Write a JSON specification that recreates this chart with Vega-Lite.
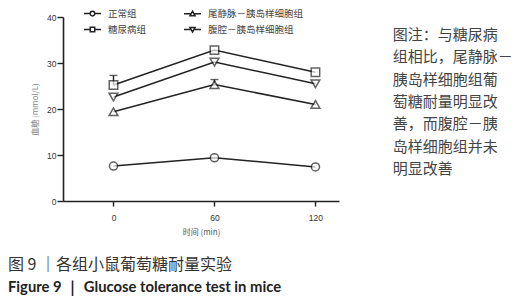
{
  "$schema": "https://vega.github.io/schema/vega-lite/v6.json",
  "autosize": {"type": "none"},
  "width": 276,
  "height": 184,
  "padding": {"left": 63, "top": 17, "right": 183, "bottom": 100},
  "background": "white",
  "config": {
    "view": {"stroke": null},
    "axis": {"grid": false, "domainColor": "#222", "domainWidth": 1.6, "tickColor": "#222", "tickWidth": 1.4, "labelFont": "Liberation Sans", "labelFontSize": 8.5, "labelColor": "#333", "titleFont": "Noto Sans CJK SC", "titleFontSize": 8, "titleFontWeight": "normal"}
  },
  "title": {
    "text": "图 9 ｜各组小鼠葡萄糖耐量实验",
    "subtitle": "Figure 9 ｜ Glucose tolerance test in mice",
    "orient": "bottom",
    "anchor": "start",
    "frame": "group",
    "dx": -55,
    "offset": 20,
    "font": "Noto Sans CJK SC",
    "fontSize": 16,
    "fontWeight": "normal",
    "color": "#333",
    "subtitleFont": "Lato",
    "subtitleFontSize": 14.8,
    "subtitleFontWeight": "bold",
    "subtitleColor": "#222",
    "subtitlePadding": 7
  },
  "datasets": {
    "glucose": [
      {"group": "正常组", "time": 0, "value": 7.6},
      {"group": "正常组", "time": 60, "value": 9.4},
      {"group": "正常组", "time": 120, "value": 7.4},
      {"group": "糖尿病组", "time": 0, "value": 25.2, "upper": 27.3},
      {"group": "糖尿病组", "time": 60, "value": 32.8},
      {"group": "糖尿病组", "time": 120, "value": 28.0},
      {"group": "尾静脉－胰岛样细胞组", "time": 0, "value": 19.4},
      {"group": "尾静脉－胰岛样细胞组", "time": 60, "value": 25.3, "upper": 26.4},
      {"group": "尾静脉－胰岛样细胞组", "time": 120, "value": 21.0},
      {"group": "腹腔－胰岛样细胞组", "time": 0, "value": 22.6},
      {"group": "腹腔－胰岛样细胞组", "time": 60, "value": 30.2},
      {"group": "腹腔－胰岛样细胞组", "time": 120, "value": 25.5}
    ],
    "note": [
      {"note": ["图注：与糖尿病", "组相比，尾静脉－", "胰岛样细胞组葡", "萄糖耐量明显改", "善，而腹腔－胰", "岛样细胞组并未", "明显改善"]}
    ]
  },
  "layer": [
    {
      "data": {"name": "glucose"},
      "mark": {"type": "line", "color": "#222", "strokeWidth": 1.5},
      "encoding": {
        "x": {"field": "time", "type": "quantitative", "scale": {"domain": [-30, 134], "nice": false, "zero": false},
          "axis": {"values": [0, 60, 120], "title": "时间 (min)", "titleColor": "#555", "tickSize": 5, "labelPadding": 7, "titlePadding": 7}},
        "y": {"field": "value", "type": "quantitative", "scale": {"domain": [0, 40], "nice": false},
          "axis": {"values": [0, 10, 20, 30, 40], "title": "血糖 (mmol/L)", "titleColor": "#888", "tickSize": 6, "labelPadding": 1, "titlePadding": 7}},
        "detail": {"field": "group"}
      }
    },
    {
      "data": {"name": "glucose"},
      "transform": [{"filter": "datum.upper != null"}],
      "mark": {"type": "rule", "color": "#222", "strokeWidth": 1.4},
      "encoding": {
        "x": {"field": "time", "type": "quantitative"},
        "y": {"field": "value", "type": "quantitative"},
        "y2": {"field": "upper"}
      }
    },
    {
      "data": {"name": "glucose"},
      "transform": [{"filter": "datum.upper != null"}],
      "mark": {"type": "tick", "color": "#222", "thickness": 1.4, "size": 8, "orient": "horizontal"},
      "encoding": {
        "x": {"field": "time", "type": "quantitative"},
        "y": {"field": "upper", "type": "quantitative"}
      }
    },
    {
      "data": {"name": "glucose"},
      "transform": [{"filter": "datum.group == '正常组'"}],
      "mark": {"type": "point", "shape": "circle", "filled": true, "fill": "white", "stroke": "#222", "strokeWidth": 1.5, "size": 66},
      "encoding": {"x": {"field": "time", "type": "quantitative"}, "y": {"field": "value", "type": "quantitative"}}
    },
    {
      "data": {"name": "glucose"},
      "transform": [{"filter": "datum.group == '糖尿病组'"}],
      "mark": {"type": "point", "shape": "square", "filled": true, "fill": "white", "stroke": "#222", "strokeWidth": 1.5, "size": 72},
      "encoding": {"x": {"field": "time", "type": "quantitative"}, "y": {"field": "value", "type": "quantitative"}}
    },
    {
      "data": {"name": "glucose"},
      "transform": [{"filter": "datum.group == '尾静脉－胰岛样细胞组'"}],
      "mark": {"type": "point", "shape": "triangle-up", "filled": true, "fill": "white", "stroke": "#222", "strokeWidth": 1.5, "size": 78},
      "encoding": {"x": {"field": "time", "type": "quantitative"}, "y": {"field": "value", "type": "quantitative"}}
    },
    {
      "data": {"name": "glucose"},
      "transform": [{"filter": "datum.group == '腹腔－胰岛样细胞组'"}],
      "mark": {"type": "point", "shape": "triangle-down", "filled": true, "fill": "white", "stroke": "#222", "strokeWidth": 1.5, "size": 78},
      "encoding": {"x": {"field": "time", "type": "quantitative"}, "y": {"field": "value", "type": "quantitative"}}
    },
    {
      "data": {"name": "glucose"},
      "mark": {"type": "point", "filled": true, "fill": "white", "stroke": "#222", "strokeWidth": 1.5, "size": 289},
      "encoding": {
        "x": {"field": "time", "type": "quantitative"},
        "y": {"field": "value", "type": "quantitative"},
        "opacity": {"condition": {"test": "false", "value": 1}, "value": 0},
        "shape": {"field": "group", "type": "nominal",
          "scale": {"domain": ["正常组", "尾静脉－胰岛样细胞组", "糖尿病组", "腹腔－胰岛样细胞组"],
            "range": [
              "M-1,0H-0.27M0.27,0H1M0.27,0A0.27,0.27 0 1,1 -0.27,0A0.27,0.27 0 1,1 0.27,0Z",
              "M-1,0H-0.17M0.17,0H1M0,-0.3L0.3,0.24H-0.3Z",
              "M-1,0H-0.26M0.26,0H1M-0.26,-0.26H0.26V0.26H-0.26Z",
              "M-1,0H-0.17M0.17,0H1M0,0.3L0.3,-0.24H-0.3Z"
            ]},
          "legend": {"title": null, "orient": "none", "legendX": 20, "legendY": -13, "direction": "horizontal", "columns": 2, "columnPadding": 34, "rowPadding": 1, "padding": 0,
            "symbolSize": 289, "symbolStrokeWidth": 1.5,
            "labelFont": "Noto Sans CJK SC", "labelFontSize": 9.5, "labelColor": "#444", "labelOffset": 6, "labelLimit": 300}
        }
      }
    },
    {
      "data": {"name": "note"},
      "mark": {"type": "text", "align": "left", "baseline": "top", "lineHeight": 22.3, "font": "Noto Sans CJK SC", "fontSize": 15, "color": "#444"},
      "encoding": {"x": {"datum": 166, "type": "quantitative"}, "y": {"datum": 37.6, "type": "quantitative"}, "text": {"field": "note"}}
    }
  ]
}
